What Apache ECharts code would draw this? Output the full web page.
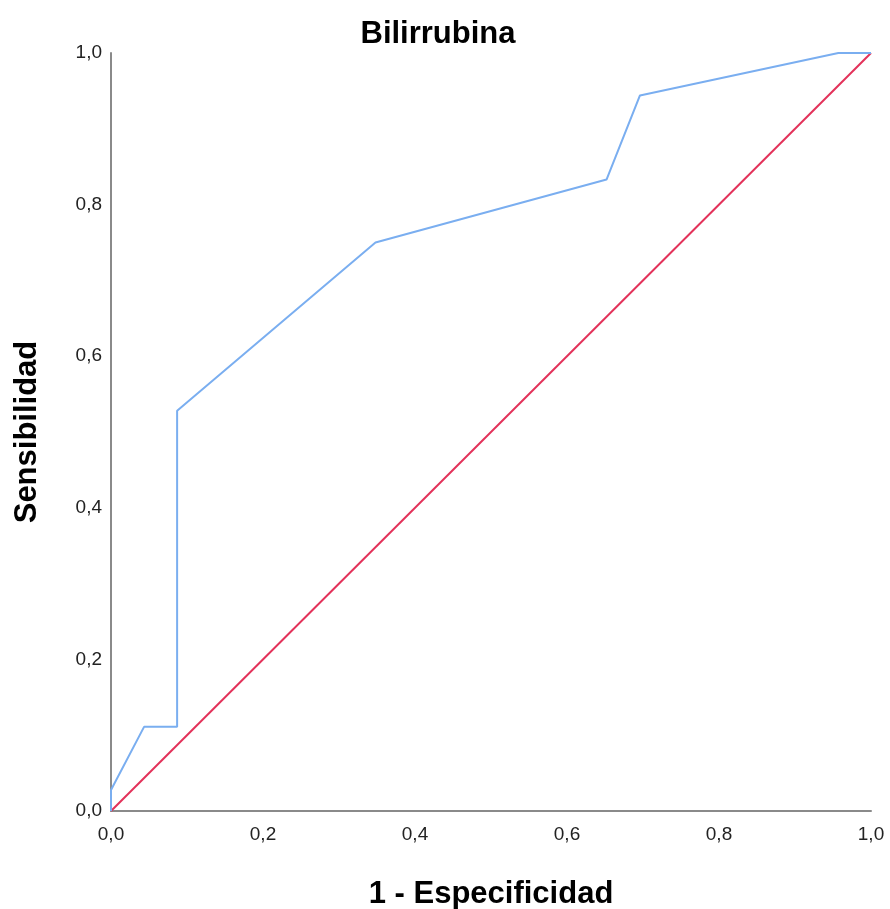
<!DOCTYPE html>
<html>
<head>
<meta charset="utf-8">
<script src="https://cdn.jsdelivr.net/npm/echarts@6/dist/echarts.min.js"></script>
<style>
  html, body { margin: 0; padding: 0; background: #fff; }
  #chart { width: 890px; height: 909px; }
</style>
</head>
<body>
<div id="chart"></div>
<script>
// ROC curve points: 1 - specificity (x) and sensitivity (y)
const rocFpr = [0, 0, 0.0435, 0.087, 0.087, 0.348, 0.652, 0.696, 0.957, 1];
const rocTpr = [0, 0.0278, 0.111, 0.111, 0.528, 0.75, 0.833, 0.944, 1, 1];
// Reference (chance) line
const refFpr = [0, 1];
const refTpr = [0, 1];

const chart = echarts.init(document.getElementById('chart'));
const fmt = v => v.toFixed(1).replace('.', ',');
const font = 'Liberation Sans, Arial, sans-serif';

const axisCommon = {
  type: 'value', min: 0, max: 1, interval: 0.2,
  axisLine: { show: true, lineStyle: { color: '#8a8a8a', width: 2 } },
  axisTick: { show: false },
  splitLine: { show: false },
  axisLabel: { formatter: fmt, color: '#222', fontSize: 19, fontFamily: font },
  nameLocation: 'middle',
  nameTextStyle: { fontSize: 31, fontWeight: 'bold', color: '#000', fontFamily: font }
};

chart.setOption({
  animation: false,
  title: {
    text: 'Bilirrubina', left: 433, top: 14, textAlign: 'center',
    textStyle: { fontSize: 31, fontWeight: 'bold', color: '#000', fontFamily: font }
  },
  grid: { left: 111, right: 19, top: 53, bottom: 98, containLabel: false, outerBoundsMode: 'none' },
  xAxis: Object.assign({}, axisCommon, {
    name: '1 - Especificidad', nameGap: 68,
    axisLabel: Object.assign({}, axisCommon.axisLabel, { margin: 14 })
  }),
  yAxis: Object.assign({}, axisCommon, {
    name: 'Sensibilidad', nameGap: 68,
    axisLabel: Object.assign({}, axisCommon.axisLabel, { margin: 9 })
  }),
  series: [
    {
      type: 'line', data: refFpr.map((x, i) => [x, refTpr[i]]),
      symbol: 'none', lineStyle: { color: '#e3325a', width: 2 }, z: 2
    },
    {
      type: 'line', data: rocFpr.map((x, i) => [x, rocTpr[i]]),
      symbol: 'none', lineStyle: { color: '#7aaef0', width: 2 }, z: 3
    }
  ]
});
</script>
</body>
</html>
